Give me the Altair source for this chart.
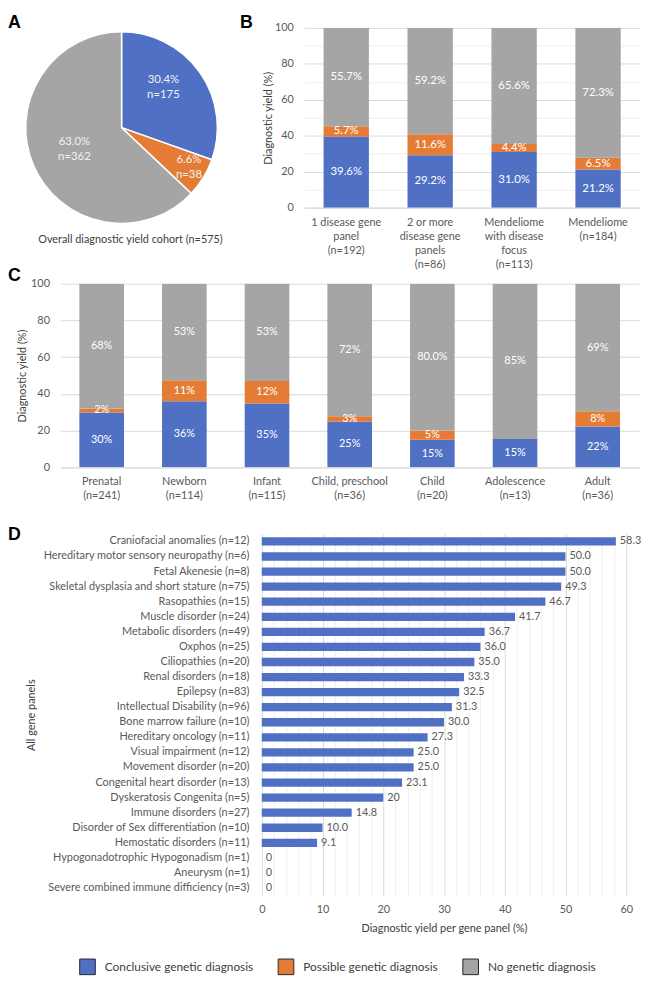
import altair as alt
import pandas as pd

FONT = "Lato"
LETTER_FONT = "Liberation Sans"
BLUE, ORANGE, GRAY = "#5070C4", "#E47C35", "#A5A5A5"
TXT = "#595959"
TITLE_TXT = "#404040"
GRID = "#D9D9D9"
GRID_MINOR = "#EFEFEF"

categories = ["Conclusive genetic diagnosis", "Possible genetic diagnosis", "No genetic diagnosis"]

# Panel A
pie_counts = [175, 38, 362]
pie_labels = ["30.4%\nn=175", "6.6%\nn=38", "63.0%\nn=362"]
pie_caption = "Overall diagnostic yield cohort (n=575)"

# Panel B
b_groups = ["1 disease gene|panel|(n=192)", "2 or more|disease gene|panels|(n=86)",
            "Mendeliome|with disease|focus|(n=113)", "Mendeliome|(n=184)"]
b_conclusive = [39.6, 29.2, 31.0, 21.2]
b_possible = [5.7, 11.6, 4.4, 6.5]
b_none = [55.7, 59.2, 65.6, 72.3]
b_conclusive_lbl = ["39.6%", "29.2%", "31.0%", "21.2%"]
b_possible_lbl = ["5.7%", "11.6%", "4.4%", "6.5%"]
b_none_lbl = ["55.7%", "59.2%", "65.6%", "72.3%"]

# Panel C
c_groups = ["Prenatal|(n=241)", "Newborn|(n=114)", "Infant|(n=115)", "Child, preschool|(n=36)",
            "Child|(n=20)", "Adolescence|(n=13)", "Adult|(n=36)"]
c_conclusive = [29.9, 36.0, 34.8, 25.0, 15.0, 15.4, 22.2]
c_possible = [2.1, 11.4, 12.2, 2.8, 5.0, 0.0, 8.3]
c_none = [68.0, 52.6, 53.0, 72.2, 80.0, 84.6, 69.4]
c_conclusive_lbl = ["30%", "36%", "35%", "25%", "15%", "15%", "22%"]
c_possible_lbl = ["2%", "11%", "12%", "3%", "5%", "", "8%"]
c_none_lbl = ["68%", "53%", "53%", "72%", "80.0%", "85%", "69%"]

# Panel D
d_panels = ["Craniofacial anomalies (n=12)", "Hereditary motor sensory neuropathy (n=6)",
            "Fetal Akenesie (n=8)", "Skeletal dysplasia and short stature (n=75)",
            "Rasopathies (n=15)", "Muscle disorder (n=24)", "Metabolic disorders (n=49)",
            "Oxphos (n=25)", "Ciliopathies (n=20)", "Renal disorders (n=18)", "Epilepsy (n=83)",
            "Intellectual Disability (n=96)", "Bone marrow failure (n=10)",
            "Hereditary oncology (n=11)", "Visual impairment (n=12)", "Movement disorder (n=20)",
            "Congenital heart disorder (n=13)", "Dyskeratosis Congenita (n=5)",
            "Immune disorders (n=27)", "Disorder of Sex differentiation (n=10)",
            "Hemostatic disorders (n=11)", "Hypogonadotrophic Hypogonadism (n=1)",
            "Aneurysm (n=1)", "Severe combined immune difficiency (n=3)"]
d_yield = [58.3, 50.0, 50.0, 49.3, 46.7, 41.7, 36.7, 36.0, 35.0, 33.3, 32.5, 31.3, 30.0,
           27.3, 25.0, 25.0, 23.1, 20.0, 14.8, 10.0, 9.1, 0.0, 0.0, 0.0]
d_labels = ["58.3", "50.0", "50.0", "49.3", "46.7", "41.7", "36.7", "36.0", "35.0", "33.3",
            "32.5", "31.3", "30.0", "27.3", "25.0", "25.0", "23.1", "20", "14.8", "10.0",
            "9.1", "0", "0", "0"]

color_scale = alt.Scale(domain=categories, range=[BLUE, ORANGE, GRAY])
legend = alt.Legend(title=None, orient="none", legendX=72, legendY=942, direction="horizontal",
                    symbolType="square", symbolSize=250, symbolStrokeColor="#262626",
                    symbolStrokeWidth=1, symbolOpacity=1, labelFontSize=12, labelColor=TITLE_TXT,
                    labelFont=FONT, columnPadding=22, labelOffset=9, padding=0)


def letter_layer(txt, x, y):
    return alt.Chart(pd.DataFrame({"t": [txt]})).mark_text(
        font=LETTER_FONT, fontSize=18, fontWeight="bold", align="left",
        baseline="alphabetic", color="black").encode(
        x=alt.value(x), y=alt.value(y), text="t:N")


def box(w, h, txt="", x=0, y=0):
    return letter_layer(txt, x, y).properties(width=w, height=h)


# ---------- Panel A ----------
pie_df = pd.DataFrame({"cat": categories, "k": [0, 1, 2], "n": pie_counts, "lbl": pie_labels})
arcs = alt.Chart(pie_df).mark_arc(outerRadius=97, stroke="white", strokeWidth=1.5).encode(
    theta=alt.Theta("n:Q", stack=True),
    order=alt.Order("k:Q", sort="ascending"),
    color=alt.Color("cat:N", scale=color_scale, legend=legend))


def pie_label(k, dx, dy):
    return alt.Chart(pie_df).transform_joinaggregate(
        total="sum(n)").transform_window(
        cum="sum(n)", sort=[alt.SortField("k", order="ascending")],
        frame=[None, 0]).transform_calculate(
        ang="2 * PI * (datum.cum - datum.n / 2) / datum.total",
        r="datum.k == 1 ? 80 : (datum.k == 0 ? 58 : 52)").transform_filter(
        f"datum.k == {k}").mark_text(
        lineBreak="\n", font=FONT, fontSize=11.5, color="#F2F2F2", lineHeight=15,
        dx=dx, dy=dy).encode(
        theta=alt.Theta("ang:Q", scale=None, stack=None),
        radius=alt.Radius("r:Q", scale=None),
        text="lbl:N")


caption = alt.Chart(pd.DataFrame({"t": [pie_caption]})).mark_text(
    font=FONT, fontSize=11, color=TITLE_TXT).encode(
    x=alt.value(124), y=alt.value(215), text="t:N")
A = alt.layer(arcs, pie_label(0, -5, -15), pie_label(1, 0, -9), pie_label(2, 0, -6),
              caption, letter_layer("A", 0, 0)).properties(width=230, height=202)


# ---------- Stacked panels ----------
def stacked_panel(groups, series, labels, width, height, minor, title_x, label_pad,
                  bar_label_size):
    rows = []
    for gi, g in enumerate(groups):
        for k in range(3):
            rows.append({"group": g, "cat": categories[k], "k": k,
                         "value": series[k][gi], "lbl": labels[k][gi]})
    df = pd.DataFrame(rows)
    values = list(range(0, 101, 10)) if minor else list(range(0, 101, 20))
    grid_color = {"condition": {"test": "datum.value % 20 === 0", "value": GRID},
                  "value": GRID_MINOR}
    x_axis = alt.Axis(labelExpr="split(datum.label, '|')", labelAngle=0, ticks=False,
                      domainColor=GRID, labelPadding=label_pad, labelLineHeight=14.3,
                      labelBaseline="top", title=None)
    y_axis = alt.Axis(values=values, labelExpr="datum.value % 20 === 0 ? datum.label : ''",
                      gridColor=grid_color, domain=False, ticks=False, labelPadding=11,
                      labelOverlap=False, title="Diagnostic yield (%)", titleX=title_x,
                      titleY=height / 2, titleBaseline="middle", titleAlign="center")
    x_scale = alt.Scale(paddingInner=0.46, paddingOuter=0.23)
    y_scale = alt.Scale(domain=[0, 100], nice=False)
    bars = alt.Chart(df).mark_bar(clip=True).encode(
        x=alt.X("group:N", sort=groups, scale=x_scale, axis=x_axis),
        y=alt.Y("value:Q", stack="zero", scale=y_scale, axis=y_axis),
        color=alt.Color("cat:N", scale=color_scale, legend=legend),
        order=alt.Order("k:Q", sort="ascending"))
    text = alt.Chart(df).transform_stack(
        stack="value", groupby=["group"], as_=["y0", "y1"],
        sort=[alt.SortField("k", order="ascending")]).transform_calculate(
        mid="(datum.y0 + min(datum.y1, 100)) / 2").transform_filter(
        "datum.lbl != ''").mark_text(font=FONT, fontSize=bar_label_size, color="white").encode(
        x=alt.X("group:N", sort=groups, scale=x_scale, axis=x_axis),
        y=alt.Y("mid:Q", scale=y_scale, axis=y_axis),
        text="lbl:N")
    return alt.layer(bars, text).properties(width=width, height=height)


B = stacked_panel(b_groups, [b_conclusive, b_possible, b_none],
                  [b_conclusive_lbl, b_possible_lbl, b_none_lbl],
                  340, 182, True, -36, 9, 11.5)
C = stacked_panel(c_groups, [c_conclusive, c_possible, c_none],
                  [c_conclusive_lbl, c_possible_lbl, c_none_lbl],
                  586, 186, False, -38, 8, 11)

# ---------- Panel D ----------
D_W, D_H = 369, 367
d_df = pd.DataFrame({"panel": d_panels, "yield": d_yield, "lbl": d_labels})
d_y = alt.Y("panel:N", sort=d_panels,
            scale=alt.Scale(paddingInner=0.45, paddingOuter=0.25),
            axis=alt.Axis(ticks=False, domain=False, labelPadding=13, labelLimit=260,
                          title="All gene panels", titleX=-233,
                          titleY=D_H / 2, titleBaseline="middle", titleAlign="center"))
d_x = alt.X("yield:Q",
            scale=alt.Scale(domain=[0, 60], nice=False),
            axis=alt.Axis(values=list(range(0, 61, 2)),
                          labelExpr="datum.value % 10 === 0 ? datum.label : ''",
                          gridColor={"condition": {"test": "datum.value % 10 === 0",
                                                   "value": GRID}, "value": GRID_MINOR},
                          domain=False, ticks=False, labelPadding=8, labelFlush=False,
                          labelOverlap=False, titlePadding=8,
                          title="Diagnostic yield per gene panel (%)"))
d_bars = alt.Chart(d_df).mark_bar(color=BLUE).encode(x=d_x, y=d_y)
d_text = alt.Chart(d_df).mark_text(align="left", dx=4, font=FONT, fontSize=11,
                                   color=TXT).encode(x=d_x, y=d_y, text="lbl:N")
D = alt.layer(d_bars, d_text).properties(width=D_W, height=D_H)

row1 = alt.hconcat(A, box(68, 250, "B", 4, 0), B, spacing=1, bounds="flush")
rowC = alt.hconcat(box(52, 253, "C", 0, -3), C, spacing=1, bounds="flush")
rowD = alt.hconcat(box(256, 1, "D", 0, 7), D, spacing=1, bounds="flush")

chart = alt.vconcat(row1, rowC, rowD, spacing=-8).properties(padding=0).resolve_scale(
    color="shared").configure(font=FONT).configure_view(stroke=None).configure_axis(
    labelFont=FONT, titleFont=FONT, labelFontSize=11, titleFontSize=11, labelColor=TXT,
    titleColor=TITLE_TXT, titleFontWeight="normal")

chart.save("out.html", embed_options={"renderer": "svg", "actions": False})
